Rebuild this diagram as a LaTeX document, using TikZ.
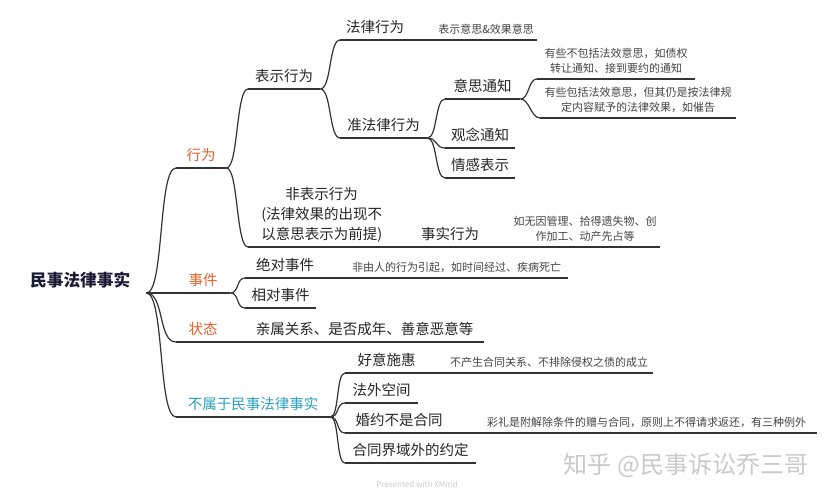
\documentclass[tikz,border=0pt]{standalone}
\usepackage{fontspec}
\newfontfamily\cjk{Noto Sans CJK SC}
\usetikzlibrary{positioning, calc}
\definecolor{evorange}{HTML}{E5612D}
\definecolor{nfteal}{HTML}{2AA2C0}
\definecolor{lnkgray}{HTML}{333333}
\definecolor{txtdark}{HTML}{262626}
\definecolor{notegray}{HTML}{454545}
\definecolor{rootnavy}{HTML}{1B1B38}
\definecolor{markgray}{HTML}{CACACA}

% curved XMind-style branch from parent underline end to child underline start
\newcommand{\branch}[3][9]{\draw[conn] (#2.south east) .. controls +(#1,0) and +(-#1,0) .. (#3.south west);}

\begin{document}
\begin{tikzpicture}[x=1pt, y=-1pt,
  conn/.style={draw=lnkgray, line width=1.2pt},
  uline/.style={draw=lnkgray, line width=1.3pt},
  topic/.style={font=\cjk\fontsize{14.5}{20}\selectfont, text=txtdark, inner sep=0pt,
    text depth=7.5pt, anchor=south west, align=center,
    append after command={(\tikzlastnode.south west) edge[uline] (\tikzlastnode.south east)}},
  note/.style={topic, font=\cjk\fontsize{11}{15}\selectfont, text=notegray, text depth=6.5pt},
  mainorange/.style={topic, text=evorange},
  mainteal/.style={topic, text=nfteal},
  rootnode/.style={font=\cjk\bfseries\fontsize{16.7}{20}\selectfont, text=rootnavy, inner sep=0pt,
    text depth=6.3pt, anchor=south west}]

% canvas 833 x 500, 1pt = 1px, y grows downwards
\useasboundingbox (0,0) rectangle (833,500);
\fill[white] (0,0) rectangle (833,500);

% Root
\node[rootnode, minimum width=132] (root) at (14,293) {民事法律事实};

% Level 1
\node[mainorange, minimum width=50] (xingwei) at (176,168) {行为};
\node[mainorange, minimum width=54] (shijian) at (176,293) {事件};
\node[mainorange, minimum width=54] (zhuangtai) at (176,342) {状态};
\node[mainteal, minimum width=154] (bushu) at (176,417) {不属于民事法律事实};

% Level 2 -- 行为
\node[topic, minimum width=72] (biaoshi) at (248,89) {表示行为};
\node[topic, minimum width=147] (feibiaoshi) at (248,247) {非表示行为\\(法律效果的出现不\\以意思表示为前提)};

% Level 3 -- 表示行为
\node[topic, minimum width=70] (falv) at (340,40) {法律行为};
\node[note, minimum width=102] (falvnote) at (435,40) {表示意思\&效果意思};
\node[topic, minimum width=87] (zhunfalv) at (340,138) {准法律行为};

% Level 4 -- 准法律行为
\node[topic, minimum width=75] (yisi) at (445,99) {意思通知};
\node[topic, minimum width=70] (guannian) at (445,148) {观念通知};
\node[topic, minimum width=70] (qinggan) at (445,178) {情感表示};
\node[note, minimum width=158] (yisinotea) at (537,79) {有些不包括法效意思，如债权\\转让通知、接到要约的通知};
\node[note, minimum width=196] (yisinoteb) at (540,118) {有些包括法效意思，但其仍是按法律规\\定内容赋予的法律效果，如催告};

% 非表示行为
\node[topic, minimum width=80] (shishi) at (410,247) {事实行为};
\node[note, minimum width=150] (shishinote) at (510,247) {如无因管理、拾得遗失物、创\\作加工、动产先占等};

% 事件
\node[topic, minimum width=80] (juedui) at (245,278) {绝对事件};
\node[note, minimum width=223] (jueduinote) at (345,278) {非由人的行为引起，如时间经过、疾病死亡};
\node[topic, minimum width=71] (xiangdui) at (245,308) {相对事件};

% 状态
\node[topic, minimum width=239] (qinshu) at (245,342) {亲属关系、是否成年、善意恶意等};

% 不属于民事法律事实
\node[topic, minimum width=83] (haoyi) at (345,373) {好意施惠};
\node[note, minimum width=208] (haoyinote) at (445,373) {不产生合同关系、不排除侵权之债的成立};
\node[topic, minimum width=73] (fawai) at (345,403) {法外空间};
\node[topic, minimum width=108] (hunyue) at (345,433) {婚约不是合同};
\node[note, minimum width=341] (hunyuenote) at (476,433) {彩礼是附解除条件的赠与合同，原则上不得请求返还，有三种例外};
\node[topic, minimum width=131] (hetong) at (345,463) {合同界域外的约定};

% Branches
\branch[18]{root}{xingwei}
\branch[18]{root}{shijian}
\branch[18]{root}{zhuangtai}
\branch[18]{root}{bushu}
\branch[12]{xingwei}{biaoshi}
\branch[12]{xingwei}{feibiaoshi}
\branch[11]{biaoshi}{falv}
\branch[11]{biaoshi}{zhunfalv}
\branch{falv}{falvnote}
\branch[10]{zhunfalv}{yisi}
\branch[10]{zhunfalv}{guannian}
\branch[10]{zhunfalv}{qinggan}
\branch[9]{yisi}{yisinotea}
\branch[9]{yisi}{yisinoteb}
\branch{feibiaoshi}{shishi}
\branch{shishi}{shishinote}
\branch{shijian}{juedui}
\branch{shijian}{xiangdui}
\branch{juedui}{jueduinote}
\branch{zhuangtai}{qinshu}
\branch{bushu}{haoyi}
\branch{bushu}{fawai}
\branch{bushu}{hunyue}
\branch{bushu}{hetong}
\branch{haoyi}{haoyinote}
\branch{hunyue}{hunyuenote}

% Watermark and footer
\node[font=\cjk\fontsize{24}{24}\selectfont, text=markgray] (mark) at (686,465) {知乎 @民事诉讼乔三哥};
\node[font=\cjk\fontsize{8}{9}\selectfont, text=gray!40] (xmind) at (417,484) {Presented with XMind};

\end{tikzpicture}
\end{document}
